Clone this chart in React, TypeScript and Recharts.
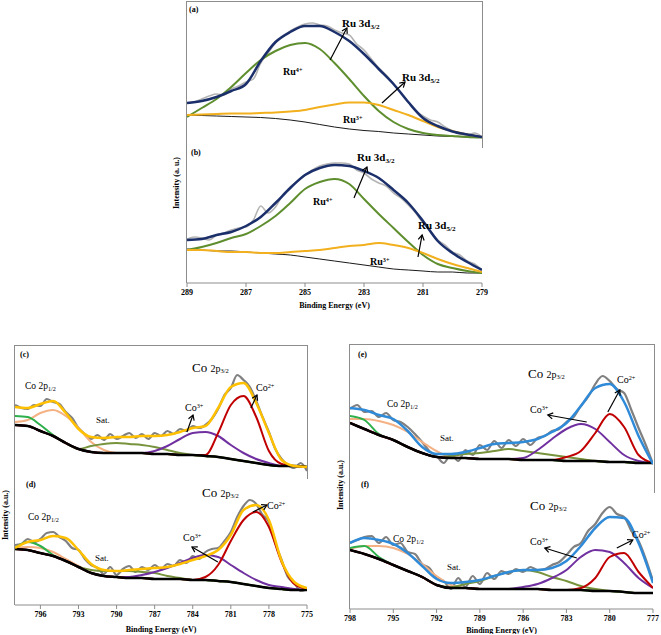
import React from 'react';
import { LineChart, Line, XAxis, YAxis, ReferenceLine } from 'recharts';

const SERIF = "'Liberation Serif', 'Times New Roman', serif";

// ---- Ru 3d region, panels (a) and (b) ----
const ruEnergy = [289, 288.5, 288, 287.5, 287, 286.5, 286, 285.5, 285, 284.5, 284, 283.5, 283, 282.5, 282, 281.5, 281, 280.5, 280, 279.5, 279];
const ruRawEnergy = [289, 288.75, 288.5, 288.25, 288, 287.75, 287.5, 287.25, 287, 286.75, 286.5, 286.25, 286, 285.75, 285.5, 285.25, 285, 284.75, 284.5, 284.25, 284, 283.75, 283.5, 283.25, 283, 282.75, 282.5, 282.25, 282, 281.75, 281.5, 281.25, 281, 280.75, 280.5, 280.25, 280, 279.75, 279.5, 279.25, 279];
const ruTicks = [279, 281, 283, 285, 287, 289];

const aBackground = [26, 25.5, 25, 24.5, 24, 23.5, 22.5, 21, 19, 16.5, 14, 12, 10.5, 9.5, 8, 7, 6, 5, 4.5, 4, 3.5];
const aRu4 = [24, 33, 42, 54, 68, 81, 90, 96, 98, 92, 78, 62, 45, 30, 19, 12, 8, 6, 5, 4, 3.5];
const aRu3 = [26, 26.5, 27, 27.5, 27.5, 28, 28.5, 29.5, 31, 34, 36.5, 38.5, 38.5, 36, 31, 26, 20, 14, 10, 6.5, 4];
const aFit = [38, 40, 44, 50, 57, 80, 99, 109, 115, 115, 109, 100, 87, 72, 57, 39, 23, 15, 9.5, 6.5, 4];
const aRaw = [38, 39, 42, 45, 47, 46, 52, 55, 59, 62, 78, 88, 98, 104, 110, 114, 117, 118, 116, 115, 111, 108, 106, 97, 91, 82, 73, 66, 57, 48, 39, 30, 25, 21, 19, 14, 10, 7, 6, 8, 4];

const bBackground = [34, 33, 32, 32, 31, 30, 29, 28, 26, 24, 22, 20, 18, 16, 14, 13, 12, 11, 11, 10, 10];
const bRu4 = [33, 36, 40, 45, 49, 57, 67, 80, 94, 101, 104, 99, 84, 69, 55, 41, 28, 19, 15, 12, 10];
const bRu3 = [33, 33, 32, 31, 31, 30, 30, 31, 32, 33, 35, 37, 38, 40, 38, 35, 30, 24, 19, 15, 11];
const bFit = [43, 44, 48, 51, 57, 66, 80, 95, 108, 115, 118, 117, 112, 105, 93, 80, 62, 42, 30, 21, 13];
const bRaw = [44, 46, 45, 43, 48, 50, 53, 55, 56, 63, 77, 70, 76, 88, 96, 102, 108, 113, 117, 119, 120, 120, 119, 113, 110, 104, 100, 97, 90, 85, 78, 70, 60, 52, 43, 38, 31, 28, 22, 19, 13];

// ---- Co 2p region, panels (c) and (d) ----
const coEnergyCD = [798, 797, 796, 795, 794, 793, 792, 791, 790, 789, 788, 787, 786, 785, 784, 783, 782, 781, 780, 779, 778, 777, 776, 775];
const coRawEnergyCD = [798, 797.5, 797, 796.5, 796, 795.5, 795, 794.5, 794, 793.5, 793, 792.5, 792, 791.5, 791, 790.5, 790, 789.5, 789, 788.5, 788, 787.5, 787, 786.5, 786, 785.5, 785, 784.5, 784, 783.5, 783, 782.5, 782, 781.5, 781, 780.5, 780, 779.5, 779, 778.5, 778, 777.5, 777, 776.5, 776, 775.5, 775];
const coTicksCD = [775, 778, 781, 784, 787, 790, 793, 796];

const cBackground = [50, 49, 44, 39, 32, 26, 23, 22, 22, 22, 22, 21, 21, 20, 20, 19, 18, 16, 14, 12, 10, 9, 9, 8];
const cSatA = [59, 58, 50, 40, 32, 26, 23, 22, 22, 22, 22, 21, 21, 20, 20, 19, 18, 16, 14, 12, 10, 9, 9, 8];
const cCo12 = [53, 55, 62, 65, 59, 47, 33, 25, 22, 22, 22, 21, 21, 20, 20, 19, 18, 16, 14, 12, 10, 9, 9, 8];
const cSatB = [50, 49, 44, 39, 32, 26, 29, 31, 32, 31, 30, 28, 25, 22, 20, 19, 18, 16, 14, 12, 10, 9, 9, 8];
const cCo3 = [50, 49, 44, 39, 32, 26, 23, 22, 22, 22, 22, 24, 29, 36, 42, 43, 39, 30, 22, 16, 12, 9, 9, 8];
const cCo2 = [50, 49, 44, 39, 32, 26, 23, 22, 22, 22, 22, 21, 21, 20, 20, 20, 42, 70, 79, 58, 24, 11, 9, 8];
const cFit = [68, 67, 71, 74, 62, 46, 38, 37, 38, 38, 39, 39, 40, 43, 47, 49, 67, 88, 92, 72, 42, 15, 9, 8];
const cRaw = [70, 67, 66, 70, 69, 76, 73, 71, 63, 57, 47, 41, 36, 40, 35, 41, 36, 39, 42, 37, 41, 36, 42, 39, 44, 41, 46, 44, 49, 47, 50, 56, 66, 80, 87, 100, 95, 88, 74, 58, 43, 26, 16, 10, 7, 12, 4];

const dBackground = [56, 55, 52, 49, 44, 38, 32, 29, 28, 27, 27, 26, 26, 26, 25, 25, 24, 23, 21, 19, 17, 16, 15, 15];
const dSatA = [57, 63, 59, 50, 44, 38, 32, 29, 28, 27, 27, 26, 26, 26, 25, 25, 24, 23, 21, 19, 17, 16, 15, 15];
const dCo12 = [57, 58, 57, 53, 46, 39, 32, 29, 28, 27, 27, 26, 26, 26, 25, 25, 24, 23, 21, 19, 17, 16, 15, 15];
const dSatB = [56, 55, 52, 49, 44, 38, 35, 34, 34, 34, 33, 32, 29, 27, 25, 25, 24, 23, 21, 19, 17, 16, 15, 15];
const dCo3 = [56, 55, 52, 49, 44, 38, 32, 29, 28, 28, 30, 33, 37, 42, 47, 50, 48, 40, 32, 25, 20, 18, 16, 15];
const dCo2 = [56, 55, 52, 49, 44, 38, 32, 29, 28, 27, 27, 26, 26, 26, 25, 28, 40, 64, 85, 93, 78, 43, 21, 16];
const dFit = [57, 63, 65, 69, 67, 55, 41, 35, 34, 35, 36, 37, 38, 41, 45, 49, 55, 70, 95, 100, 85, 44, 23, 17];
const dRaw = [60, 61, 66, 63, 66, 72, 73, 68, 64, 57, 55, 46, 40, 37, 31, 38, 30, 36, 39, 33, 38, 35, 40, 36, 41, 39, 45, 42, 49, 46, 53, 56, 57, 64, 73, 88, 99, 105, 101, 90, 83, 62, 45, 28, 22, 14, 16];

// ---- Co 2p region, panels (e) and (f) ----
const coEnergyEF = [798, 797, 796, 795, 794, 793, 792, 791, 790, 789, 788, 787, 786, 785, 784, 783, 782, 781, 780, 779, 778, 777];
const coRawEnergyEF = [798, 797.5, 797, 796.5, 796, 795.5, 795, 794.5, 794, 793.5, 793, 792.5, 792, 791.5, 791, 790.5, 790, 789.5, 789, 788.5, 788, 787.5, 787, 786.5, 786, 785.5, 785, 784.5, 784, 783.5, 783, 782.5, 782, 781.5, 781, 780.5, 780, 779.5, 779, 778.5, 778, 777.5, 777];
const coTicksEF = [777, 780, 783, 786, 789, 792, 795, 798];

const eBackground = [52, 46, 40, 35, 28, 22, 18, 17, 17, 16, 16, 16, 15, 15, 15, 14, 14, 14, 13, 13, 12, 12];
const eSatA = [59, 55, 41, 35, 28, 22, 18, 17, 17, 16, 16, 16, 15, 15, 15, 14, 14, 14, 13, 13, 12, 12];
const eCo12 = [56, 56, 54, 50, 43, 33, 24, 18, 17, 16, 16, 16, 15, 15, 15, 14, 14, 14, 13, 13, 12, 12];
const eSatB = [52, 46, 40, 35, 28, 22, 18, 19, 21, 22, 24, 26, 24, 22, 20, 18, 16, 14, 13, 13, 12, 12];
const eCo3 = [52, 46, 40, 35, 28, 22, 18, 17, 17, 16, 16, 16, 17, 25, 36, 46, 51, 46, 33, 20, 14, 12];
const eCo2 = [52, 46, 40, 35, 28, 22, 18, 17, 17, 16, 16, 16, 15, 15, 15, 18, 24, 42, 61, 48, 20, 12];
const eFit = [67, 65, 60, 56, 44, 28, 21, 21, 23, 27, 31, 32, 33, 36, 43, 52, 69, 87, 91, 73, 39, 11];
const eRaw = [66, 70, 63, 64, 58, 62, 55, 53, 48, 41, 33, 24, 19, 12, 21, 14, 25, 20, 30, 25, 34, 27, 35, 29, 36, 30, 37, 39, 44, 46, 53, 58, 69, 78, 91, 99, 94, 86, 82, 65, 47, 30, 11];

const fBackground = [59, 55, 50, 44, 38, 32, 24, 21, 21, 20, 20, 20, 20, 20, 19, 19, 19, 18, 18, 17, 16, 16];
const fSatA = [61, 63, 52, 44, 38, 32, 24, 21, 21, 20, 20, 20, 20, 20, 19, 19, 19, 18, 18, 17, 16, 16];
const fCo12 = [60, 63, 63, 61, 55, 45, 33, 24, 21, 20, 20, 20, 20, 20, 19, 19, 19, 18, 18, 17, 16, 16];
const fSatB = [59, 55, 50, 44, 38, 32, 24, 22, 25, 28, 33, 37, 39, 37, 32, 28, 23, 20, 18, 17, 16, 16];
const fCo3 = [59, 55, 50, 44, 38, 32, 24, 21, 21, 20, 20, 20, 22, 25, 31, 39, 52, 59, 57, 46, 31, 21];
const fCo2 = [59, 55, 50, 44, 38, 32, 24, 21, 21, 20, 20, 20, 20, 20, 19, 19, 21, 31, 52, 56, 37, 21];
const fFit = [66, 71, 69, 65, 56, 43, 30, 26, 27, 29, 33, 37, 39, 39, 41, 48, 63, 81, 92, 91, 66, 26];
const fRaw = [66, 69, 72, 73, 66, 72, 64, 66, 57, 55, 45, 41, 31, 28, 20, 31, 22, 33, 25, 36, 30, 38, 35, 40, 37, 42, 39, 40, 44, 47, 54, 62, 66, 78, 85, 96, 102, 95, 92, 78, 68, 50, 28];

// build rows for recharts from the arrays above
const rowsOf = (energy: number[], cols: Record<string, number[]>) =>
  energy.map((e, i) => {
    const r: Record<string, number> = { e };
    Object.keys(cols).forEach((k) => (r[k] = cols[k][i]));
    return r;
  });
const rawOf = (energy: number[], v: number[]) => energy.map((e, i) => ({ e, v: v[i] }));

type Curve = { key: string; color: string; width: number };

const ruCurves: Curve[] = [
  { key: 'bg', color: '#1a1a1a', width: 1 },
  { key: 'ru4', color: '#5e8e2e', width: 2 },
  { key: 'ru3', color: '#f2b01e', width: 2 },
  { key: 'fit', color: '#1b2f6b', width: 2.5 },
];

const coCurves = (fitColor: string): Curve[] => [
  { key: 'co12', color: '#f4b183', width: 2 },
  { key: 'satA', color: '#2db04b', width: 2 },
  { key: 'satB', color: '#77933c', width: 2 },
  { key: 'co3', color: '#7030a0', width: 2 },
  { key: 'co2', color: '#c00000', width: 2 },
  { key: 'bg', color: '#000000', width: 2.5 },
  { key: 'fit', color: fitColor, width: 2.5 },
];

// arrow drawn between two data points of a ReferenceLine segment
const Arrow = (p: any) => {
  const { x1, y1, x2, y2 } = p;
  if (x1 == null || x2 == null) return <g />;
  const a = Math.atan2(y2 - y1, x2 - x1);
  const h = 5;
  const w = 3;
  const bx = x2 - h * Math.cos(a);
  const by = y2 - h * Math.sin(a);
  const pts = `${bx - w * Math.sin(a)},${by + w * Math.cos(a)} ${x2},${y2} ${bx + w * Math.sin(a)},${by - w * Math.cos(a)}`;
  return (
    <g>
      <line x1={x1} y1={y1} x2={x2} y2={y2} stroke="#000" strokeWidth={1.2} />
      <polyline points={pts} fill="none" stroke="#000" strokeWidth={1.2} />
    </g>
  );
};

type Seg = [number, number, number, number];
const PAD = 12;

function Spectrum(props: {
  left: number; top: number; width: number; height: number; yMax: number;
  domain: [number, number]; ticks?: number[]; axisHeight?: number; labelOffset?: number;
  rows: any[]; raw: any[]; rawColor: string; rawWidth: number; curves: Curve[]; arrows: Seg[];
}) {
  const { left, top, width, height, yMax, domain, ticks, axisHeight = 28, labelOffset = 2, rows, raw, rawColor, rawWidth, curves, arrows } = props;
  const showAxis = !!ticks;
  return (
    <div style={{ position: 'absolute', left: left - PAD, top }}>
      <LineChart width={width + 2 * PAD} height={height + (showAxis ? axisHeight : 0)} data={rows} margin={{ top: 0, right: PAD, bottom: 0, left: PAD }}>
        <XAxis
          dataKey="e" type="number" domain={domain} reversed allowDataOverflow
          hide={!showAxis} ticks={ticks} interval={0} height={showAxis ? axisHeight : 0}
          tickSize={4} axisLine={{ stroke: '#8c8c8c' }} tickLine={{ stroke: '#8c8c8c' }}
          tick={{ fontSize: 8, fontWeight: 700, fill: '#000', fontFamily: SERIF }}
          label={{ value: 'Binding Energy (eV)', position: 'insideBottom', offset: labelOffset, fontSize: 8, fontWeight: 700, fill: '#000', fontFamily: SERIF }}
        />
        <YAxis hide domain={[0, yMax]} allowDataOverflow />
        <Line data={raw} dataKey="v" type="monotone" stroke={rawColor} strokeWidth={rawWidth} dot={false} isAnimationActive={false} />
        {curves.map((c) => (
          <Line key={c.key} dataKey={c.key} type="monotone" stroke={c.color} strokeWidth={c.width} dot={false} isAnimationActive={false} />
        ))}
        {arrows.map((s, i) => (
          <ReferenceLine key={i} segment={[{ x: s[0], y: s[1] }, { x: s[2], y: s[3] }]} ifOverflow="visible" shape={Arrow} />
        ))}
      </LineChart>
    </div>
  );
}

const Tag = ({ x, y, size, bold = false, children }: any) => (
  <div style={{ position: 'absolute', left: x, top: y - size / 2, fontSize: size, lineHeight: 1, fontWeight: bold ? 700 : 400, fontFamily: SERIF, whiteSpace: 'nowrap', color: '#000' }}>
    {children}
  </div>
);
const Sub = ({ children }: any) => <span style={{ fontSize: '0.65em', position: 'relative', top: '0.3em' }}>{children}</span>;
const Sup = ({ children }: any) => <span style={{ fontSize: '0.62em', position: 'relative', top: '-0.45em' }}>{children}</span>;

const YLabel = ({ x, y, text }: any) => (
  <div style={{ position: 'absolute', left: x, top: y, transform: 'translate(-50%, -50%) rotate(-90deg)', fontSize: 8, fontWeight: 700, fontFamily: SERIF, whiteSpace: 'nowrap' }}>
    {text}
  </div>
);

const line = '1px solid #8c8c8c';

const Co32 = ({ x, y }: any) => (
  <Tag x={x} y={y} size={13}>Co <span style={{ fontSize: 10 }}>2p<Sub>3/2</Sub></span></Tag>
);
const Co12 = ({ x, y }: any) => (
  <Tag x={x} y={y} size={9.5}>Co 2p<Sub>1/2</Sub></Tag>
);

export default function App() {
  return (
    <div style={{ position: 'absolute', left: 0, top: 0, width: 661, height: 635, background: '#fff', overflow: 'hidden' }}>
      {/* frames */}
      <div style={{ position: 'absolute', left: 186, top: 1, width: 295, height: 146, borderTop: line, borderLeft: line, borderRight: line }} />
      <div style={{ position: 'absolute', left: 186, top: 147, width: 0, height: 136, borderLeft: line }} />
      <div style={{ position: 'absolute', left: 14, top: 345, width: 292, height: 133, borderTop: line, borderLeft: line, borderRight: line }} />
      <div style={{ position: 'absolute', left: 14, top: 478, width: 0, height: 127, borderLeft: line }} />
      <div style={{ position: 'absolute', left: 349, top: 344, width: 304, height: 148, borderTop: line, borderLeft: line, borderRight: line }} />
      <div style={{ position: 'absolute', left: 349, top: 492, width: 0, height: 117, borderLeft: line }} />

      {/* (a) */}
      <Spectrum left={187} top={1} width={295} height={140} yMax={140} domain={[279, 289]}
        rows={rowsOf(ruEnergy, { bg: aBackground, ru4: aRu4, ru3: aRu3, fit: aFit })}
        raw={rawOf(ruRawEnergy, aRaw)} rawColor="#b4b4b4" rawWidth={1.6} curves={ruCurves}
        arrows={[[284.15, 81, 283.58, 113], [282.39, 38, 281.61, 59]]} />
      {/* (b) */}
      <Spectrum left={187} top={141} width={295} height={142} yMax={142} domain={[279, 289]} ticks={ruTicks} axisHeight={28} labelOffset={3}
        rows={rowsOf(ruEnergy, { bg: bBackground, ru4: bRu4, ru3: bRu3, fit: bFit })}
        raw={rawOf(ruRawEnergy, bRaw)} rawColor="#b4b4b4" rawWidth={1.6} curves={ruCurves}
        arrows={[[283.34, 85, 282.9, 116], [281.17, 26, 281.03, 48]]} />

      {/* (c) */}
      <Spectrum left={15} top={345} width={292} height={130} yMax={130} domain={[775, 798]}
        rows={rowsOf(coEnergyCD, { bg: cBackground, satA: cSatA, co12: cCo12, satB: cSatB, co3: cCo3, co2: cCo2, fit: cFit })}
        raw={rawOf(coRawEnergyCD, cRaw)} rawColor="#808080" rawWidth={2.2} curves={coCurves('#ffc000')}
        arrows={[[784.46, 43, 783.98, 60], [779.42, 67, 778.94, 80]]} />
      {/* (d) */}
      <Spectrum left={15} top={475} width={292} height={130} yMax={130} domain={[775, 798]} ticks={coTicksCD} axisHeight={29} labelOffset={2}
        rows={rowsOf(coEnergyCD, { bg: dBackground, satA: dSatA, co12: dCo12, satB: dSatB, co3: dCo3, co2: dCo2, fit: dFit })}
        raw={rawOf(coRawEnergyCD, dRaw)} rawColor="#808080" rawWidth={2.2} curves={coCurves('#ffc000')}
        arrows={[[782.02, 43, 784.06, 58], [779.26, 93, 778.16, 100]]} />

      {/* (e) */}
      <Spectrum left={350} top={344} width={303} height={131} yMax={131} domain={[777, 798]}
        rows={rowsOf(coEnergyEF, { bg: eBackground, satA: eSatA, co12: eCo12, satB: eSatB, co3: eCo3, co2: eCo2, fit: eFit })}
        raw={rawOf(coRawEnergyEF, eRaw)} rawColor="#808080" rawWidth={2.2} curves={coCurves('#2f8ad8')}
        arrows={[[781.59, 53, 784.29, 60], [780.13, 63, 779.3, 85]]} />
      {/* (f) */}
      <Spectrum left={350} top={475} width={303} height={134} yMax={134} domain={[777, 798]} ticks={coTicksEF} axisHeight={25} labelOffset={1}
        rows={rowsOf(coEnergyEF, { bg: fBackground, satA: fSatA, co12: fCo12, satB: fSatB, co3: fCo3, co2: fCo2, fit: fFit })}
        raw={rawOf(coRawEnergyEF, fRaw)} rawColor="#808080" rawWidth={2.2} curves={coCurves('#2f8ad8')}
        arrows={[[782.28, 51, 784.5, 61], [779.51, 61, 778.4, 69]]} />

      {/* axis titles */}
      <YLabel x={176} y={183} text="Intensity (a. u.)" />
      <YLabel x={5} y={515} text="Intensity (a.u.)" />
      <YLabel x={340} y={485} text="Intensity (a.u.)" />

      {/* panel letters */}
      <Tag x={189} y={10} size={8} bold>(a)</Tag>
      <Tag x={191} y={153} size={8} bold>(b)</Tag>
      <Tag x={20} y={355} size={8} bold>(c)</Tag>
      <Tag x={26} y={485} size={8} bold>(d)</Tag>
      <Tag x={358} y={355} size={8} bold>(e)</Tag>
      <Tag x={361} y={485} size={8} bold>(f)</Tag>

      {/* Ru annotations */}
      <Tag x={342} y={23} size={11} bold>Ru 3d<Sub>3/2</Sub></Tag>
      <Tag x={283} y={72} size={10} bold>Ru<Sup>4+</Sup></Tag>
      <Tag x={402} y={77} size={11} bold>Ru 3d<Sub>5/2</Sub></Tag>
      <Tag x={343} y={120} size={10} bold>Ru<Sup>3+</Sup></Tag>
      <Tag x={357} y={157} size={11} bold>Ru 3d<Sub>3/2</Sub></Tag>
      <Tag x={313} y={202} size={10} bold>Ru<Sup>4+</Sup></Tag>
      <Tag x={418} y={225} size={11} bold>Ru 3d<Sub>5/2</Sub></Tag>
      <Tag x={370} y={262} size={10} bold>Ru<Sup>3+</Sup></Tag>

      {/* Co annotations */}
      <Co12 x={25} y={387} />
      <Tag x={96} y={420} size={9}>Sat.</Tag>
      <Co32 x={192} y={367} />
      <Tag x={185} y={408} size={10}>Co<Sup>3+</Sup></Tag>
      <Tag x={256} y={388} size={10}>Co<Sup>2+</Sup></Tag>

      <Co12 x={28} y={518} />
      <Tag x={95} y={558} size={9}>Sat.</Tag>
      <Co32 x={202} y={492} />
      <Tag x={183} y={538} size={10}>Co<Sup>3+</Sup></Tag>
      <Tag x={267} y={506} size={10}>Co<Sup>2+</Sup></Tag>

      <Co12 x={387} y={405} />
      <Tag x={440} y={438} size={9}>Sat.</Tag>
      <Co32 x={528} y={373} />
      <Tag x={530} y={410} size={10}>Co<Sup>3+</Sup></Tag>
      <Tag x={617} y={380} size={10}>Co<Sup>2+</Sup></Tag>

      <Co12 x={393} y={540} />
      <Tag x={447} y={567} size={9}>Sat.</Tag>
      <Co32 x={530} y={505} />
      <Tag x={530} y={542} size={10}>Co<Sup>3+</Sup></Tag>
      <Tag x={632} y={535} size={10}>Co<Sup>2+</Sup></Tag>
    </div>
  );
}
